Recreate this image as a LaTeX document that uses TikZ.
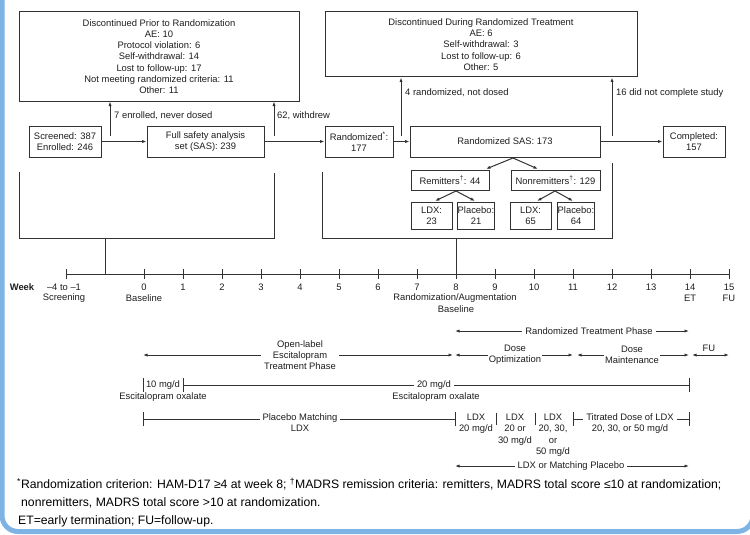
\documentclass[tikz,border=0pt]{standalone}
\usepackage{fontspec}
\setmainfont{Liberation Sans}
\usetikzlibrary{arrows.meta,calc}
\definecolor{linec}{RGB}{50,50,50}
\definecolor{textc}{RGB}{30,30,30}
\definecolor{frameblue}{RGB}{125,180,228}
\newcommand{\dfont}{\fontsize{9.4}{11.2}\selectfont}
\newcommand{\ffont}{\fontsize{12.2}{14}\selectfont}
\tikzset{
  flowbox/.style={draw=linec, line width=1pt, align=center, inner sep=0pt, font=\dfont, text=textc},
  lbl/.style={font=\dfont, text=textc, inner sep=1pt, align=center},
  wlbl/.style={lbl, fill=white, inner xsep=3pt, inner ysep=0.5pt},
  conn/.style={draw=linec, line width=1pt},
  arr/.style={conn, -{Latex[length=4.5pt,width=3.2pt]}},
  darr/.style={conn, {Latex[length=4.5pt,width=3.2pt]}-{Latex[length=4.5pt,width=3.2pt]}},
  foot/.style={font=\ffont, text=black, anchor=west, inner sep=0pt},
}
\begin{document}
\begin{tikzpicture}[x=1pt,y=-1pt]
\useasboundingbox (0,0) rectangle (750,535);
\begin{scope}
  \clip (0,0) rectangle (750,535);
  \draw[line width=5pt, frameblue, rounded corners=16pt] (2,-40) rectangle (753,531.5);
\end{scope}

% ---------- top boxes ----------
\node[flowbox, minimum width=280, minimum height=89] (disc1) at (159,56.5)
  {Discontinued Prior to Randomization\\AE: 10\\Protocol violation: 6\\Self-withdrawal: 14\\Lost to follow-up: 17\\Not meeting randomized criteria: 11\\Other: 11};
\node[flowbox, minimum width=312, minimum height=65] (disc2) at (481,44.5)
  {Discontinued During Randomized Treatment\\AE: 6\\Self-withdrawal: 3\\Lost to follow-up: 6\\Other: 5};

% ---------- main row ----------
\node[flowbox, minimum width=72, minimum height=31] (screen) at (65,141.5) {Screened: 387\\Enrolled: 246};
\node[flowbox, minimum width=117, minimum height=31] (fullsas) at (205.5,141.5) {Full safety analysis\\set (SAS): 239};
\node[flowbox, minimum width=68, minimum height=31] (rand) at (359,141.5) {Randomized\textsuperscript{*}:\\177};
\node[flowbox, minimum width=190, minimum height=31] (randsas) at (505,141.5) {Randomized SAS: 173};
\node[flowbox, minimum width=62, minimum height=31] (compl) at (694,141.5) {Completed:\\157};

\draw[arr] (screen) -- (fullsas);
\draw[arr] (fullsas) -- (rand);
\draw[arr] (rand) -- (randsas);
\draw[arr] (randsas) -- (compl);

% ---------- withdrawal arrows ----------
\coordinate (w1) at (110,136);
\coordinate (w2) at (274,136);
\coordinate (w3) at (401,136);
\coordinate (w4) at (612,136);
\draw[arr] (w1) -- (w1 |- disc1.south);
\draw[arr] (w2) -- (w2 |- disc1.south);
\draw[arr] (w3) -- (w3 |- disc2.south);
\draw[arr] (w4) -- (w4 |- disc2.south);
\node[lbl, anchor=west] (lw1) at (113,116) {7 enrolled, never dosed};
\node[lbl, anchor=west] (lw2) at (276,116) {62, withdrew};
\node[lbl, anchor=west] (lw3) at (404,93) {4 randomized, not dosed};
\node[lbl, anchor=west] (lw4) at (615,93) {16 did not complete study};

% ---------- remitters ----------
\node[flowbox, minimum width=78, minimum height=20] (remit) at (450,180) {Remitters\textsuperscript{†}: 44};
\node[flowbox, minimum width=89, minimum height=20] (nonrem) at (555.5,180) {Nonremitters\textsuperscript{†}: 129};
\coordinate (sp0) at (513,158);
\coordinate (sp0l) at (486,169);
\coordinate (sp0r) at (538,169);
\draw[arr] (sp0) -- (sp0l);
\draw[arr] (sp0) -- (sp0r);

\node[flowbox, minimum width=41, minimum height=27] (ldx1) at (431.5,215.5) {LDX:\\23};
\node[flowbox, minimum width=36, minimum height=27] (pl1) at (476,215.5) {Placebo:\\21};
\node[flowbox, minimum width=41, minimum height=27] (ldx2) at (530.5,215.5) {LDX:\\65};
\node[flowbox, minimum width=36, minimum height=27] (pl2) at (576,215.5) {Placebo:\\64};
\coordinate (sp1) at (456,191);
\coordinate (sp1l) at (435,201);
\coordinate (sp1r) at (475,201);
\coordinate (sp2) at (555,191);
\coordinate (sp2l) at (537,201);
\coordinate (sp2r) at (573,201);
\draw[arr] (sp1) -- (sp1l);
\draw[arr] (sp1) -- (sp1r);
\draw[arr] (sp2) -- (sp2l);
\draw[arr] (sp2) -- (sp2r);

% ---------- brackets ----------
\draw[conn] (19,172) |- (274,238) -- (274,173);
\draw[conn] (105,238) -- (105,274);
\draw[conn] (322,172) |- (612,238) -- (612,163);
\draw[conn] (456,238) -- (456,274);

% ---------- timeline ----------
\draw[conn] (66,274) -- (729,274);
\foreach \w in {-2,0,1,...,15} \draw[conn] ({144+39*\w},269) -- ({144+39*\w},279);
\foreach \w in {0,...,15} \node[lbl] at ({144+39*\w},287.5) {\w};
\node[lbl, font=\dfont\bfseries] (wk) at (22,287.5) {Week};
\node[lbl] at (64,287.5) {–4 to –1};
\node[lbl] at (64,298.5) {Screening};
\node[lbl] at (144,298.5) {Baseline};
\node[lbl] at (455,298.5) {Randomization/Augmentation};
\node[lbl] at (456,309) {Baseline};
\node[lbl] at (690,298.5) {ET};
\node[lbl] at (729,298.5) {FU};

% ---------- phases ----------
\draw[darr] (455,331) -- (689,331);
\node[wlbl] at (589,331) {Randomized Treatment Phase};

\draw[darr] (143,355) -- (453,355);
\node[wlbl] at (300,355) {Open-label\\Escitalopram\\Treatment Phase};
\draw[darr] (455,355) -- (573,355);
\node[wlbl, inner xsep=1pt] at (515,355) {Dose\\Optimization};
\draw[darr] (577,355) -- (689,355);
\node[wlbl, inner xsep=1pt] at (632,355) {Dose\\Maintenance};
\draw[darr] (692,355) -- (729,355);
\node[lbl] at (709,348) {FU};

% escitalopram dose
\draw[conn] (143,378) -- (143,392);
\node[lbl] at (163,385) {10 mg/d};
\draw[conn] (183,378) -- (183,392);
\draw[conn] (183,385) -- (689,385);
\draw[conn] (689,378) -- (689,392);
\node[wlbl] at (434,385) {20 mg/d};
\node[lbl] at (163,397) {Escitalopram oxalate};
\node[lbl] at (436,397) {Escitalopram oxalate};

% LDX doses
\draw[conn] (143,412) -- (143,426);
\draw[conn] (143,419) -- (455,419);
\draw[conn] (455,412) -- (455,426);
\node[wlbl, anchor=north] at (300,413) {Placebo Matching\\LDX};
\node[lbl, anchor=north] at (476,413) {LDX\\20 mg/d};
\draw[conn] (496,413) -- (496,425);
\node[lbl, anchor=north] at (515,413) {LDX\\20 or\\30 mg/d};
\draw[conn] (535,413) -- (535,425);
\node[lbl, anchor=north] at (553,413) {LDX\\20, 30,\\or\\50 mg/d};
\draw[conn] (573,412) -- (573,426);
\draw[conn] (573,419) -- (689,419);
\draw[conn] (689,412) -- (689,426);
\node[wlbl, anchor=north] at (630,413) {Titrated Dose of LDX\\20, 30, or 50 mg/d};

\draw[darr] (455,466) -- (689,466);
\node[wlbl] at (571,466) {LDX or Matching Placebo};

% ---------- footnotes ----------
\node[foot] (fn1) at (17,484) {\textsuperscript{*}Randomization criterion: HAM-D17 ≥4 at week 8; \textsuperscript{†}MADRS remission criteria: remitters, MADRS total score ≤10 at randomization;};
\node[foot] (fn2) at (21,503) {nonremitters, MADRS total score >10 at randomization.};
\node[foot] (fn3) at (18,521) {ET=early termination; FU=follow-up.};
\end{tikzpicture}
\end{document}
